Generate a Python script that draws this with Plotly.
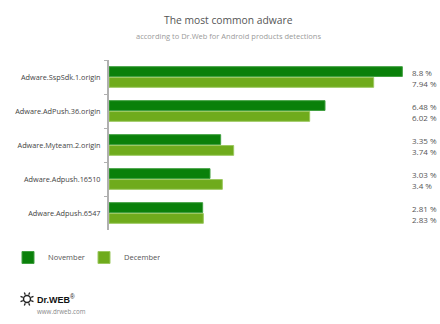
import math
import plotly.graph_objects as go

# Detection shares (%) of the most common adware
categories = [
    "Adware.SspSdk.1.origin",
    "Adware.AdPush.36.origin",
    "Adware.Myteam.2.origin",
    "Adware.Adpush.16510",
    "Adware.Adpush.6547",
]
november = [8.8, 6.48, 3.35, 3.03, 2.81]
december = [7.94, 6.02, 3.74, 3.4, 2.83]
series_names = ["November", "December"]

NOV_COLOR = "#0a800a"
DEC_COLOR = "#6fab1c"
FONT = "Open Sans"

W, H = 440, 324
ML, MR, MT, MB = 109, 31, 60, 94
PW, PH = W - ML - MR, H - MT - MB


def px(x):
    """Pixel column -> paper x."""
    return (x - ML) / PW


def py(y):
    """Pixel row (from top) -> paper y."""
    return (H - MB - y) / PH


fig = go.Figure()
fig.add_trace(go.Bar(
    y=categories, x=november, name=series_names[0], orientation="h",
    marker=dict(color=NOV_COLOR, line=dict(color="#3f9f3f", width=1)),
    hoverinfo="x+y",
))
fig.add_trace(go.Bar(
    y=categories, x=december, name=series_names[1], orientation="h",
    marker=dict(color=DEC_COLOR, line=dict(color="#9cc860", width=1)),
    hoverinfo="x+y",
))

# Value labels in a column to the right of the plot area
annotations = []
for vals, shift in ((november, 5), (december, -6)):
    for cat, v in zip(categories, vals):
        annotations.append(dict(
            x=1, xref="paper", xanchor="left", xshift=1,
            y=cat, yref="y", yshift=shift, yanchor="middle",
            text=f"{v:g} %", showarrow=False,
            font=dict(family=FONT, size=8, color="#555555"),
        ))

# Title and subtitle
annotations.append(dict(
    x=px(228), y=py(20), xref="paper", yref="paper",
    xanchor="center", yanchor="middle",
    text="The most common adware", showarrow=False,
    font=dict(family=FONT, size=10.3, color="#555555"),
))
annotations.append(dict(
    x=px(228), y=py(36), xref="paper", yref="paper",
    xanchor="center", yanchor="middle",
    text="according to Dr.Web for Android products detections", showarrow=False,
    font=dict(family=FONT, size=7.5, color="#9a9a9a"),
))

# Brand block
annotations.append(dict(
    x=px(35), y=py(299), xref="paper", yref="paper",
    xanchor="left", yanchor="middle",
    text="<b>Dr.WEB</b><sup>®</sup>", showarrow=False,
    font=dict(family="Liberation Sans", size=9, color="#111111"),
))
annotations.append(dict(
    x=px(35), y=py(311), xref="paper", yref="paper",
    xanchor="left", yanchor="middle",
    text="www.drweb.com", showarrow=False,
    font=dict(family=FONT, size=6.2, color="#888888"),
))

# Spider-like emblem next to the brand name
cx, cy = 27, 299
shapes = [dict(
    type="circle", xref="paper", yref="paper",
    x0=px(cx - 3.5), x1=px(cx + 3.5), y0=py(cy + 3.5), y1=py(cy - 3.5),
    line=dict(color="#222222", width=1.5), fillcolor="white",
)]
for k in range(8):
    a = math.pi * (k + 0.5) / 4
    shapes.append(dict(
        type="line", xref="paper", yref="paper",
        x0=px(cx + 4.5 * math.cos(a)), y0=py(cy + 4.5 * math.sin(a)),
        x1=px(cx + 7 * math.cos(a)), y1=py(cy + 7 * math.sin(a)),
        line=dict(color="#222222", width=1.3),
    ))

fig.update_layout(
    width=W, height=H,
    margin=dict(l=ML, r=MR, t=MT, b=MB),
    paper_bgcolor="white", plot_bgcolor="white",
    barmode="group", bargap=0.36, bargroupgap=0.1,
    font=dict(family=FONT, size=8, color="#555555"),
    xaxis=dict(range=[0, 9], visible=False, fixedrange=True),
    yaxis=dict(
        autorange="reversed", showline=True, linecolor="#b0b0b0", linewidth=2,
        ticks="outside", tickson="boundaries", ticklen=3, tickcolor="#b0b0b0",
        tickfont=dict(family=FONT, size=7.3, color="#444444"),
        showgrid=False, zeroline=False, fixedrange=True, ticklabelstandoff=5,
    ),
    legend=dict(
        orientation="h", xref="container", x=8 / W, xanchor="left",
        yref="container", y=1 - 243 / H, yanchor="top",
        font=dict(family=FONT, size=7.5, color="#555555"),
        entrywidth=31, traceorder="normal",
    ),
    showlegend=True,
    annotations=annotations,
    shapes=shapes,
)

fig.write_html("out.html")
